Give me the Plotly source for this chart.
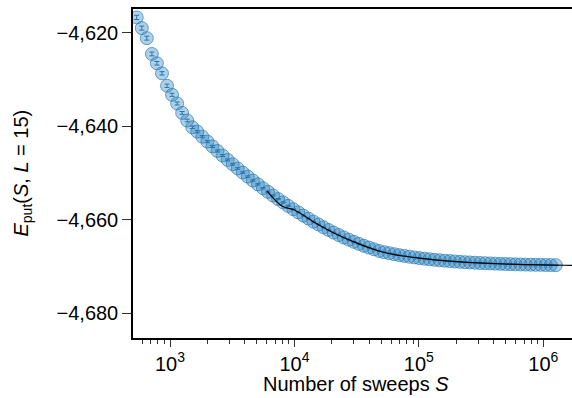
import plotly.graph_objects as go

# Number of sweeps S (x) and extrapolated energy E_put (y)
sweeps = [540, 593, 651, 715, 785, 862, 946, 1039, 1141, 1252,
          1375, 1510, 1658, 1820, 1998, 2194, 2409, 2645, 2904, 3188,
          3500, 3843, 4220, 4633, 5087, 5585, 6132, 6733, 7392, 8116,
          8911, 9783, 10741, 11793, 12948, 14216, 15608, 17137, 18815, 20658,
          22681, 24902, 27341, 30019, 32959, 36187, 39731, 43622, 47894, 52585,
          57735, 63389, 69597, 76413, 83897, 92113, 101153, 111057, 121935, 133877,
          146987, 161383, 177188, 194541, 213594, 234512, 257479, 282695, 310382, 340779,
          374155, 410799, 451032, 495205, 543704, 596956, 655420, 719610, 790090, 867471,
          952430, 1045707, 1148120, 1260567]

energy = [-4616.71, -4618.99, -4621.14, -4624.52, -4626.52, -4628.67, -4631.33, -4633.27, -4635.12, -4637.14,
          -4638.77, -4640.21, -4641.14, -4642.24, -4643.27, -4644.30, -4645.29, -4646.26, -4647.20, -4648.13,
          -4649.03, -4649.91, -4650.77, -4651.61, -4652.43, -4653.25, -4654.02, -4654.82, -4655.57, -4656.30,
          -4657.03, -4657.74, -4658.43, -4659.12, -4659.76, -4660.41, -4661.01, -4661.61, -4662.19, -4662.75,
          -4663.27, -4663.78, -4664.26, -4664.73, -4665.16, -4665.58, -4665.96, -4666.32, -4666.67, -4666.95,
          -4667.16, -4667.38, -4667.57, -4667.74, -4667.91, -4668.06, -4668.21, -4668.34, -4668.45, -4668.58,
          -4668.67, -4668.77, -4668.85, -4668.93, -4669.01, -4669.09, -4669.14, -4669.20, -4669.26, -4669.31,
          -4669.35, -4669.40, -4669.44, -4669.48, -4669.50, -4669.54, -4669.57, -4669.60, -4669.62, -4669.64,
          -4669.66, -4669.69, -4669.70, -4669.72]

energy_err = [0.45, 0.43, 0.42, 0.40, 0.38, 0.36, 0.35, 0.33, 0.32, 0.30,
              0.29, 0.27, 0.26, 0.25, 0.24, 0.23, 0.22, 0.21, 0.20, 0.19,
              0.18, 0.17, 0.16, 0.16, 0.15, 0.14, 0.14, 0.13, 0.12, 0.12,
              0.11, 0.11, 0.10, 0.10, 0.09, 0.09, 0.09, 0.08, 0.08, 0.08,
              0.07, 0.07, 0.07, 0.06, 0.06, 0.06, 0.06, 0.05, 0.05, 0.05,
              0.05, 0.05, 0.04, 0.04, 0.04, 0.04, 0.04, 0.04, 0.03, 0.03,
              0.03, 0.03, 0.03, 0.03, 0.03, 0.03, 0.02, 0.02, 0.02, 0.02,
              0.02, 0.02, 0.02, 0.02, 0.02, 0.02, 0.02, 0.02, 0.02, 0.02,
              0.02, 0.02, 0.02, 0.02]

# Fitted curve (black line)
fit_sweeps = [6000, 8000, 10000, 15000, 20000, 30000, 50000, 70000, 100000,
              150000, 200000, 300000, 500000, 700000, 1000000, 1500000, 2000000]
fit_energy = [-4653.8, -4657.1, -4657.93, -4660.82, -4662.62, -4664.75, -4666.86, -4667.66, -4668.21,
              -4668.69, -4668.97, -4669.25, -4669.48, -4669.59, -4669.68, -4669.74, -4669.76]

x_tickvals = [1e3, 1e4, 1e5, 1e6]
x_ticktext = ["10<sup>3</sup>", "10<sup>4</sup>", "10<sup>5</sup>", "10<sup>6</sup>"]
minor_decades = [100, 1000, 10000, 100000]
minor_mults = [2, 3, 4, 5, 6, 7, 8, 9]
x_minor = [d * m for d in minor_decades for m in minor_mults]

y_tickvals = [-4620, -4640, -4660, -4680]
y_ticktext = ["\u22124,620", "\u22124,640", "\u22124,660", "\u22124,680"]

fig = go.Figure()
fig.add_trace(go.Scatter(
    x=sweeps, y=energy, mode="markers",
    marker=dict(size=13, color="rgba(31,119,180,0.35)",
                line=dict(color="rgba(31,119,180,0.65)", width=1)),
    error_y=dict(type="data", array=energy_err, visible=True,
                 color="#1f77b4", thickness=1, width=2.5),
    hoverinfo="skip",
))
fig.add_trace(go.Scatter(
    x=fit_sweeps, y=fit_energy, mode="lines",
    line=dict(color="black", width=1.2, shape="spline"),
    hoverinfo="skip",
))

fig.update_layout(
    width=572, height=398,
    margin=dict(l=133, r=0, t=9, b=60),
    plot_bgcolor="white", paper_bgcolor="white",
    showlegend=False,
    font=dict(family="Liberation Sans, Arial, sans-serif", size=20, color="black"),
    xaxis=dict(
        type="log", range=[2.7026, 6.2307],
        showline=True, linecolor="black", linewidth=1.5, mirror=True,
        ticks="outside", ticklen=7, tickwidth=1, tickcolor="#333",
        tickvals=x_tickvals, ticktext=x_ticktext,
        showgrid=False, zeroline=False,
        minor=dict(tickvals=x_minor, ticks="outside", ticklen=4,
                   tickwidth=1, tickcolor="#333", showgrid=False),
    ),
    yaxis=dict(
        range=[-4685.31, -4614.90],
        showline=True, linecolor="black", linewidth=1.5,
        ticks="outside", ticklen=9, tickwidth=1, tickcolor="#333",
        tickvals=y_tickvals, ticktext=y_ticktext,
        showgrid=False, zeroline=False,
    ),
    annotations=[
        dict(text="Number of sweeps <i>S</i>", xref="paper", yref="paper",
             x=0.509, y=-0.1398, xanchor="center", yanchor="middle",
             showarrow=False, font=dict(size=20)),
        dict(text="<i>E</i><sub>put</sub>(<i>S</i>, <i>L</i> = 15)", xref="paper", yref="paper",
             x=-0.2528, y=0.5, xanchor="center", yanchor="middle", textangle=-90,
             showarrow=False, font=dict(size=20)),
    ],
)

fig.write_html("out.html")
